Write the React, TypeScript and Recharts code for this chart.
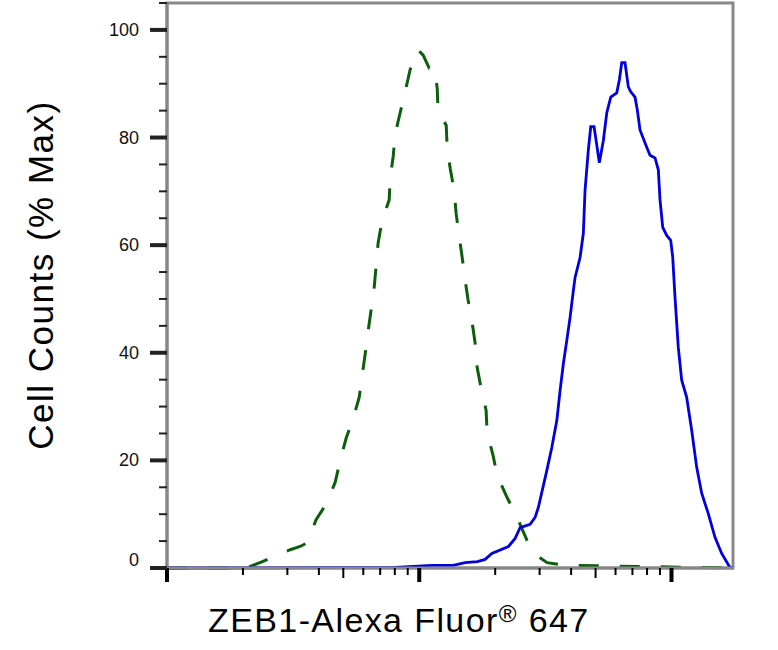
import React from 'react';
import { LineChart, Line, XAxis, YAxis, ReferenceArea, Label } from 'recharts';

// isotype control (dashed green), intensity vs % max
const controlX = [100, 178, 214, 239, 261, 308, 337, 360, 390, 412, 432, 464, 486, 513, 547, 578, 594, 611, 627, 645, 663, 675, 687, 713, 760, 767, 788, 803, 840, 880, 920, 990, 1036, 1095, 1146, 1178, 1188, 1279, 1290, 1326, 1375, 1400, 1439, 1479, 1520, 1562, 1620, 1665, 1696, 1759, 1841, 1858, 1962, 2035, 2230, 2443, 2676, 2932, 3211, 3784, 17530];
const controlY = [0, 0, 0.3, 1.2, 2.0, 3.4, 4.0, 4.7, 9.0, 10.7, 12.4, 15.9, 20.0, 24.1, 27.8, 31.7, 35.8, 39.9, 44.0, 48.1, 52.2, 56.3, 60.4, 64.7, 68.4, 72.5, 76.4, 80.7, 84.6, 88.6, 92.6, 96.3, 95.3, 92.9, 93.1, 89.2, 84.7, 82.3, 78.2, 74.3, 70.2, 65.9, 61.7, 57.8, 53.5, 49.8, 45.7, 41.8, 37.3, 33.4, 29.3, 25.2, 20.9, 17.2, 13.1, 9.4, 5.1, 2.3, 1.0, 0.5, 0];

// ZEB1 stained sample (solid blue)
const zebX = [100, 803, 1122, 1362, 1520, 1700, 1824, 1940, 2257, 2399, 2510, 2750, 2879, 2967, 3059, 3203, 3353, 3510, 3617, 3727, 3845, 3963, 4083, 4147, 4340, 4472, 4542, 4681, 4785, 4932, 5176, 5370, 5539, 5744, 6066, 6212, 6349, 6543, 6742, 6892, 7168, 7319, 7502, 7732, 7975, 8218, 8603, 8867, 9005, 9230, 9572, 9927, 10110, 10325, 10640, 10975, 11486, 12023, 12585, 13172, 13989, 14873, 15807, 17051, 17530];
const zebY = [0, 0.1, 0.5, 0.5, 1.0, 1.2, 1.6, 2.7, 4.0, 5.5, 7.5, 8.1, 9.4, 11.3, 14.0, 18.1, 22.4, 27.4, 33.0, 38.0, 42.3, 46.6, 51.6, 54.0, 57.7, 62.2, 70.2, 77.7, 82.0, 82.0, 75.3, 79.5, 84.6, 87.5, 88.3, 90.7, 93.9, 93.9, 89.4, 88.5, 87.5, 85.1, 81.4, 79.8, 78.2, 76.7, 76.2, 74.0, 68.4, 63.3, 61.8, 60.9, 57.8, 50.3, 41.0, 34.9, 31.7, 25.6, 18.7, 13.9, 10.1, 5.7, 2.7, 0.1, 0];

const xTicks = [100, 200, 300, 400, 500, 600, 700, 800, 900, 1000, 2000, 3000, 4000, 5000, 6000, 7000, 8000, 9000, 10000];
const yTicks = [0, 5, 10, 15, 20, 25, 30, 35, 40, 45, 50, 55, 60, 65, 70, 75, 80, 85, 90, 95, 100, 105];

const X_MIN = 100;
const X_MAX = 17530;

const control = controlX.map((x, i) => ({ x, y: controlY[i] }));
const zeb = zebX.map((x, i) => ({ x, y: zebY[i] }));

const FONT = '"Liberation Sans", Arial, sans-serif';

function XTick(props: any) {
  const { x, y, payload } = props;
  const v = payload.value;
  const m = v / Math.pow(10, Math.floor(Math.log10(v) + 1e-9));
  const major = Math.abs(m - 1) < 1e-6;
  const len = major ? 14 : Math.abs(m - 5) < 1e-6 ? 10 : 7;
  return <line x1={x} x2={x} y1={y} y2={y + len} stroke="#000" strokeWidth={major ? 4 : 2} />;
}

function YTick(props: any) {
  const { x, y, payload } = props;
  const v = payload.value;
  const major = v % 20 === 0;
  return (
    <g>
      <line x1={x - (major ? 17 : 8)} x2={x} y1={y} y2={y} stroke="#222" strokeWidth={major ? 4 : 2} />
      {major && (
        <text x={x - 28} y={v === 0 ? y - 8 : y} textAnchor="end" dominantBaseline="central"
          fontSize={18} fontFamily={FONT} fill="#111">
          {v}
        </text>
      )}
    </g>
  );
}

export default function App() {
  return (
    <div style={{ position: 'absolute', left: 0, top: 0, background: '#fff' }}>
      <LineChart width={778} height={650} margin={{ top: 3, right: 45, bottom: 0, left: 0 }}>
        <ReferenceArea x1={X_MIN} x2={X_MAX} y1={0} y2={105} fill="none" stroke="#888" strokeWidth={3} fillOpacity={0} />
        <XAxis
          dataKey="x"
          type="number"
          scale="log"
          domain={[X_MIN, X_MAX]}
          ticks={xTicks}
          tick={<XTick />}
          tickSize={0}
          tickMargin={0}
          tickLine={false}
          axisLine={{ stroke: '#888', strokeWidth: 3 }}
          allowDataOverflow
          height={82}
          interval={0}
        >
          <Label
            content={() => (
              <text x={208} y={632} fontSize={34} letterSpacing={1.4} fontFamily={FONT} fill="#000">
                ZEB1-Alexa Fluor
                <tspan fontSize={24} dy={-10}>®</tspan>
                <tspan dy={10}> 647</tspan>
              </text>
            )}
          />
        </XAxis>
        <YAxis
          type="number"
          domain={[0, 105]}
          ticks={yTicks}
          tick={<YTick />}
          tickSize={0}
          tickMargin={0}
          tickLine={false}
          axisLine={{ stroke: '#888', strokeWidth: 3 }}
          width={167}
          interval={0}
        >
          <Label
            content={() => (
              <text x={0} y={0} transform="translate(53, 275) rotate(-90)" textAnchor="middle"
                fontSize={35} letterSpacing={1.5} fontFamily={FONT} fill="#000">
                Cell Counts (% Max)
              </text>
            )}
          />
        </YAxis>
        <Line
          data={control}
          dataKey="y"
          type="linear"
          stroke="#0b5e0b"
          strokeWidth={3}
          strokeDasharray="20 21"
          dot={false}
          isAnimationActive={false}
        />
        <Line
          data={zeb}
          dataKey="y"
          type="linear"
          stroke="#0000e0"
          strokeWidth={2.8}
          dot={false}
          isAnimationActive={false}
        />
      </LineChart>
    </div>
  );
}
